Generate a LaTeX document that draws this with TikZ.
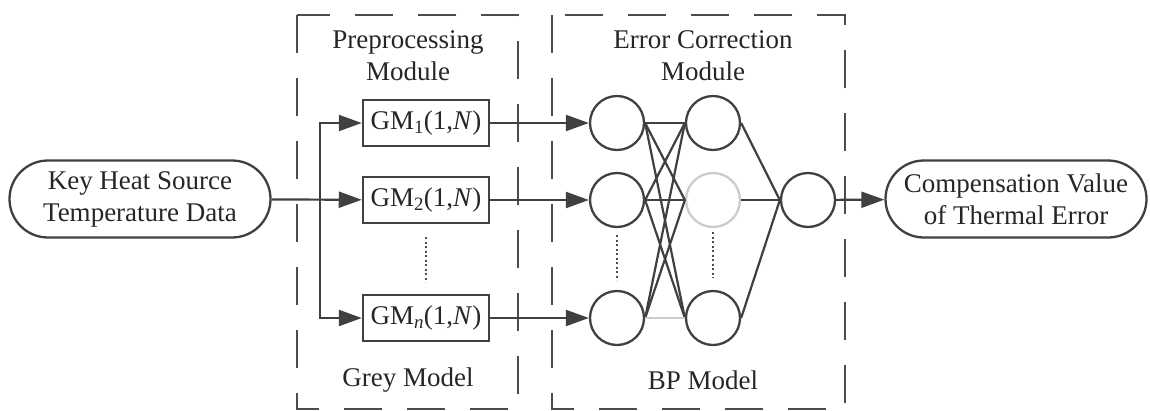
\documentclass[tikz,border=0pt]{standalone}
\usepackage{fontspec}
\setmainfont{Liberation Serif}
\usetikzlibrary{arrows.meta,positioning,shapes.misc}
\begin{document}
\begin{tikzpicture}[x=1pt,y=-1pt]
\tikzset{every node/.style={font=\fontsize{27}{32}\selectfont,text=black!85}}
\tikzset{term/.style={draw=black!75,rounded rectangle,line width=2.3pt,minimum width=261pt,minimum height=77pt,align=center,inner sep=0pt}}
\tikzset{gm/.style={draw=black!75,line width=2.5pt,minimum width=126pt,minimum height=46pt,inner sep=0pt}}
\tikzset{neuron/.style={draw=black!75,circle,line width=2.3pt,minimum size=54pt,inner sep=0pt}}
\tikzset{module/.style={draw=black!70,line width=2.8pt,dash pattern=on 38pt off 25pt}}
\tikzset{link/.style={draw=black!75,line width=2.2pt}}
\tikzset{flow/.style={link,-{Triangle[length=23pt,width=16pt]}}}
\tikzset{dots/.style={draw=black!70,line width=2pt,dash pattern=on 2pt off 2.5pt}}
\useasboundingbox (0,0) rectangle (1150,410);
\draw[module] (297,15) rectangle (518,409);
\draw[module] (552,15) rectangle (845,409);
\node[align=center] (pre) at (408,56) {Preprocessing\\Module};
\node (grey) at (408,380) {Grey Model};
\node[align=center] (err) at (703,56) {Error Correction\\Module};
\node (bp) at (703,380) {BP Model};
\node[term] (src) at (140,199) {Key Heat Source\\Temperature Data};
\node[term] (res) at (1016,199) {Compensation Value\\of Thermal Error};
\node[gm] (gm1) at (426,123) {GM\textsubscript{1}(1,\textit{N})};
\node[gm] (gm2) at (426,200) {GM\textsubscript{2}(1,\textit{N})};
\node[gm] (gmn) at (426,318) {GM\textsubscript{\textit{n}}(1,\textit{N})};
\coordinate (split) at (320,200);
\draw[flow] (src) -- (gm2);
\draw[flow] (split) |- (gm1);
\draw[flow] (split) |- (gmn);
\draw[dots] (gm2.south) ++(0,13) coordinate (d1) -- ++(0,45);
\node[neuron] (in1) at (617,123) {};
\node[neuron] (in2) at (617,200) {};
\node[neuron] (in3) at (617,318) {};
\node[neuron] (hid1) at (713,123) {};
\node[neuron,draw=black!20] (hid2) at (713,200) {};
\node[neuron] (hid3) at (713,318) {};
\node[neuron] (out) at (808,200) {};
\draw[flow] (gm1) -- (in1);
\draw[flow] (gm2) -- (in2);
\draw[flow] (gmn) -- (in3);
\foreach \i in {1,2,3}
  \foreach \j in {1,2,3}
    {\ifnum\i\j=33\else\draw[link] (in\i.east) -- (hid\j.west);\fi}
\draw[link,draw=black!20] (in3.east) -- (hid3.west);
\foreach \j in {1,2,3}
  \draw[link] (hid\j.east) -- (out.west);
\draw[dots] (617,235) coordinate (d2) -- (617,280);
\draw[dots] (713,232) coordinate (d3) -- (713,278);
\draw[flow] (out) -- (res);
\end{tikzpicture}
\end{document}
